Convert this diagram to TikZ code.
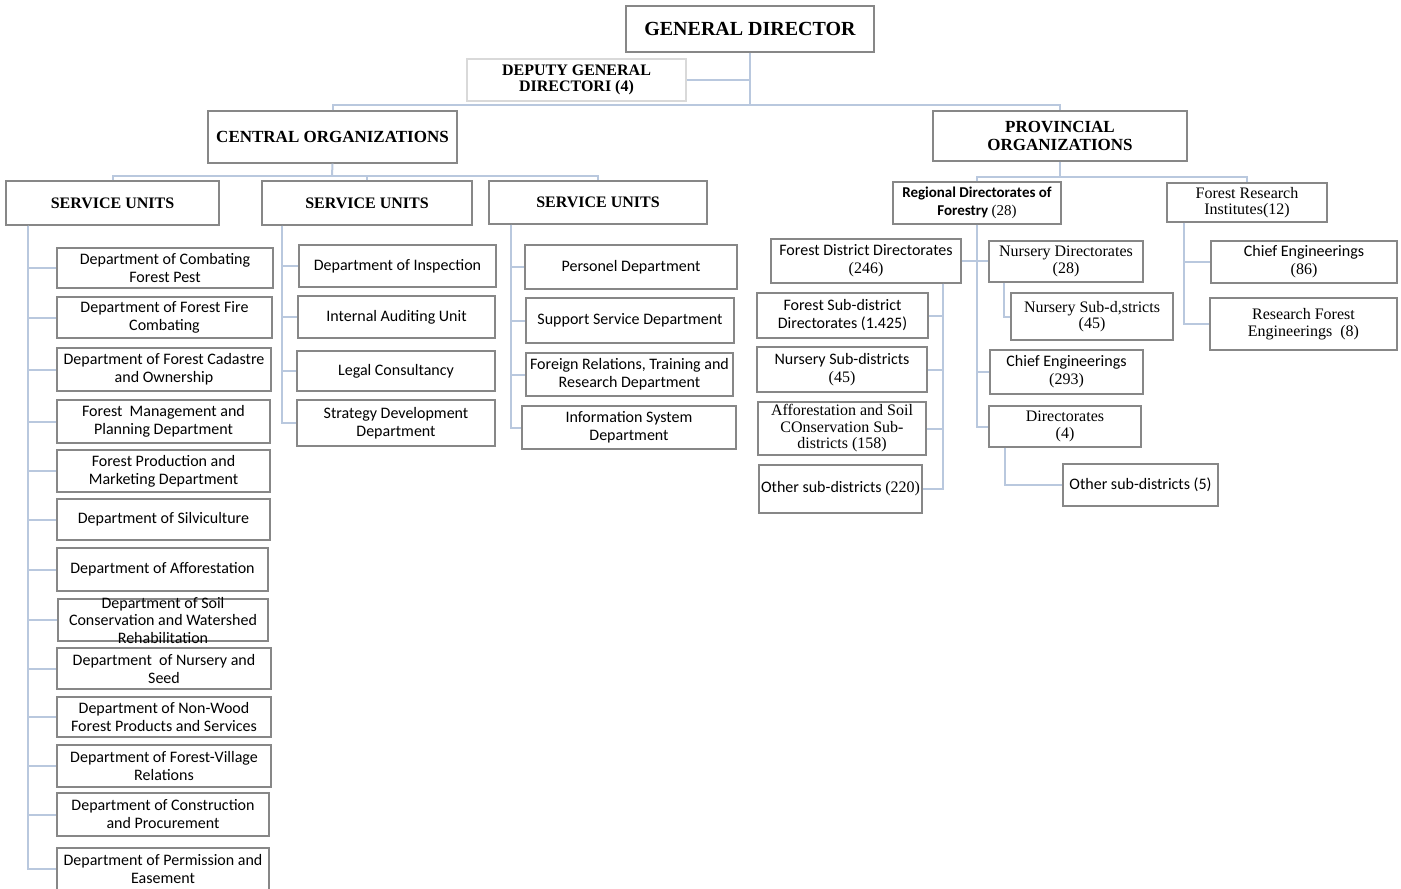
\documentclass[tikz,border=0pt]{standalone}
\usepackage{fontspec}
\setmainfont{Liberation Serif}
\newfontfamily\calib{Carlito}
\usetikzlibrary{fit}
\definecolor{boxline}{RGB}{135,135,135}
\definecolor{conn}{RGB}{185,200,222}
\newcommand\obox[7][]{\node[box,fit={(#3,#4)(#5,#6)}] (#2) {};\node[txt,#1] (#2-t) at (#2.center) {#7};}
\begin{document}
\begin{tikzpicture}[x=1pt,y=-1pt,
  box/.style={draw=boxline,line width=1.4pt,fill=white,inner sep=0pt,rectangle},
  txt/.style={align=center,inner sep=0pt,font=\calib\fontsize{16}{18}\selectfont},
  ser/.style={font=\fontsize{16}{16.5}\selectfont},
  hdbig/.style={font=\bfseries\fontsize{20}{20}\selectfont},
  hdmid/.style={font=\bfseries\fontsize{17}{17.5}\selectfont},
  hdsm/.style={font=\bfseries\fontsize{16}{16}\selectfont},
  c/.style={draw=conn,line width=2pt}]
\useasboundingbox (0,0) rectangle (1401,889);
\fill[white] (0,0) rectangle (1401,889);
% top levels
\obox[hdbig]{gd}{626}{6}{874}{52}{GENERAL DIRECTOR}
\node[box,draw=black!15,fit={(467,59)(686,101)}] (dep) {};
\node[txt,hdsm] (dep-t) at (dep.center) {DEPUTY GENERAL\\DIRECTORI (4)};
\obox[hdmid]{co}{208}{111}{457}{163}{CENTRAL ORGANIZATIONS}
\obox[hdmid]{po}{933}{111}{1187}{161}{PROVINCIAL\\ORGANIZATIONS}
\obox[hdsm]{su1}{6}{181}{219}{225}{SERVICE UNITS}
\obox[hdsm]{su2}{262}{181}{472}{225}{SERVICE UNITS}
\obox[hdsm]{su3}{489}{181}{707}{224}{SERVICE UNITS}
% column 1
\obox{a1}{57}{248}{273}{288}{Department of Combating\\Forest Pest}
\obox{a2}{57}{297}{272}{338}{Department of Forest Fire\\Combating}
\obox{a3}{57}{348}{271}{391}{Department of Forest Cadastre\\and Ownership}
\obox{a4}{57}{400}{270}{443}{Forest\ \ Management and\\Planning Department}
\obox{a5}{57}{450}{270}{492}{Forest Production and\\Marketing Department}
\obox{a6}{57}{499}{270}{540}{Department of Silviculture}
\obox{a7}{57}{548}{268}{591}{Department of Afforestation}
\obox[font=\calib\fontsize{16}{17.5}\selectfont]{a8}{58}{599}{268}{641}{Department of Soil\\Conservation and Watershed\\Rehabilitation}
\obox{a9}{57}{648}{271}{689}{Department\ \ of Nursery and\\Seed}
\obox{a10}{57}{697}{271}{737}{Department of Non-Wood\\Forest Products and Services}
\obox{a11}{57}{745}{271}{787}{Department of Forest-Village\\Relations}
\obox{a12}{57}{793}{269}{836}{Department of Construction\\and Procurement}
\obox{a13}{57}{848}{269}{890}{Department of Permission and\\Easement}
% column 2
\obox{b1}{299}{245}{496}{287}{Department of Inspection}
\obox{b2}{298}{296}{495}{338}{Internal Auditing Unit}
\obox{b3}{297}{351}{495}{391}{Legal Consultancy}
\obox{b4}{297}{400}{495}{446}{Strategy Development\\Department}
% column 3
\obox{c1}{525}{245}{737}{289}{Personel Department}
\obox{c2}{526}{298}{734}{343}{Support Service Department}
\obox{c3}{526}{353}{733}{396}{Foreign Relations, Training and\\Research Department}
\obox{c4}{522}{406}{736}{449}{Information System\\Department}
% provincial
\obox[font=\calib\fontsize{15}{18}\selectfont]{rd}{893}{182}{1061}{224}{{\bfseries Regional Directorates of}\\{\bfseries Forestry} {\rmfamily (28)}}
\obox[ser]{fri}{1167}{183}{1327}{222}{Forest Research\\Institutes(12)}
\obox{fdd}{771}{239}{961}{283}{Forest District Directorates\\{\rmfamily (246)}}
\obox[ser]{nd}{989}{241}{1143}{282}{Nursery Directorates\\(28)}
\obox[ser]{nsd}{1011}{293}{1173}{340}{Nursery Sub-d,stricts\\(45)}
\obox{ce293}{990}{350}{1143}{394}{Chief Engineerings\\{\rmfamily (293)}}
\obox[ser]{dir4}{989}{406}{1141}{447}{Directorates\\(4)}
\obox{os5}{1063}{464}{1218}{506}{Other sub-districts (5)}
\obox{fsd}{757}{293}{928}{338}{Forest Sub-district\\Directorates (1.425)}
\obox{nsub}{757}{347}{927}{392}{Nursery Sub-districts\\{\rmfamily (45)}}
\obox[ser]{aff}{758}{402}{926}{455}{Afforestation and Soil\\COnservation Sub-\\districts (158)}
\obox{os220}{759}{465}{922}{513}{Other sub-districts {\rmfamily (220)}}
\obox{ce86}{1211}{241}{1397}{283}{Chief Engineerings\\{\rmfamily (86)}}
\obox[ser]{rfe}{1210}{298}{1397}{350}{Research Forest\\Engineerings\ \ (8)}
% connectors
\coordinate (bus) at (750,105);
\coordinate (cbus) at (332,176);
\coordinate (pbus) at (1060,177);
\draw[c] (gd.south) -- (bus);
\draw[c] (dep.east) -- (dep.east -| bus);
\draw[c] (co.north) |- (bus) -| (po.north);
\draw[c] (co.south) -- (cbus);
\draw[c] (su1.north) |- (cbus) -| (su3.north);
\draw[c] (su2.north) -- (su2.north |- cbus);
\draw[c] (po.south) -- (pbus);
\draw[c] (rd.north) |- (pbus) -| (fri.north);
\coordinate (t1) at ([xshift=23pt]su1.south west);
\coordinate (t2) at ([xshift=21pt]su2.south west);
\coordinate (t3) at ([xshift=23pt]su3.south west);
\foreach \n in {a1,a2,a3,a4,a5,a6,a7,a8,a9,a10,a11,a12,a13} \draw[c] (t1) |- (\n.west);
\foreach \n in {b1,b2,b3,b4} \draw[c] (t2) |- (\n.west);
\foreach \n in {c1,c2,c3,c4} \draw[c] (t3) |- (\n.west);
\draw[c] (rd.south) |- (ce293.west);
\draw[c] (rd.south) |- (dir4.west);
\draw[c] (fdd.east) -- (fdd.east -| nd.west);
\draw[c] ([xshift=16pt]nd.south west) |- (nsd.west);
\draw[c] ([xshift=17pt]dir4.south west) |- (os5.west);
\foreach \n in {fsd,nsub,aff,os220} \draw[c] ([xshift=-19pt]fdd.south east) |- (\n.east);
\foreach \n in {ce86,rfe} \draw[c] ([xshift=18pt]fri.south west) |- (\n.west);
\end{tikzpicture}
\end{document}
